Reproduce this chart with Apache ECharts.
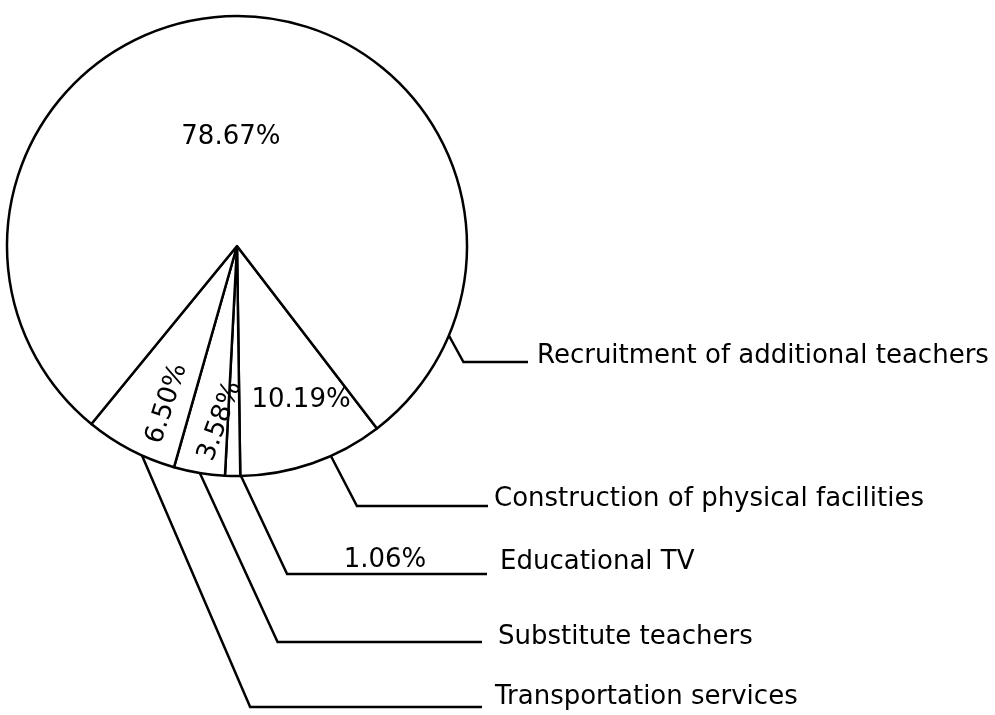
<!DOCTYPE html>
<html>
<head>
<meta charset="utf-8">
<script src="https://cdn.jsdelivr.net/npm/echarts@6/dist/echarts.min.js"></script>
<style>
html,body{margin:0;padding:0;background:#fff;}
#chart{width:995px;height:715px;}
</style>
</head>
<body>
<div id="chart"></div>
<script>
// ---- data ----
const categories = ['Construction of physical facilities', 'Educational TV', 'Substitute teachers', 'Transportation services', 'Recruitment of additional teachers'];
const shares = [10.19, 1.06, 3.58, 6.50, 78.67];
const percentLabels = ['10.19%', '1.06%', '3.58%', '6.50%', '78.67%'];

// ---- layout (not data) ----
const PIE_CENTER = [237, 246];
const PIE_RADIUS = 230;
const START_ANGLE = -52.5;
// leader line: angle on rim where it starts, slope of diagonal, horizontal line y / end, text pos
const leaderAngle = [65.9, 89, 99.3, 114.4, 22.9];
const leaderSlope = [0.52, 0.47, 0.46, 0.43, 0.55];
const leaderLineY = [506, 574, 642, 707, 362];
const leaderEndX = [488, 487, 482, 482, 528];
const nameTextX = [494, 500, 498, 495, 537];
const nameTextY = [499, 562, 637, 697, 356];
// percent label polar positions: [angle deg (clockwise from +x), fraction of radius]
const pctPolar = [[67.4, 0.725], null, [95.5, 0.765], [114, 0.75], [266.8, 0.475]];
const pctRotate = [0, 0, 70, 72, 0];

const FONT = '"DejaVu Sans", sans-serif';

function rimPoint(angleDeg, frac) {
  const a = angleDeg * Math.PI / 180;
  return [PIE_CENTER[0] + PIE_RADIUS * frac * Math.cos(a), PIE_CENTER[1] + PIE_RADIUS * frac * Math.sin(a)];
}

const chart = echarts.init(document.getElementById('chart'), null, {renderer: 'canvas'});

const nameData = categories.map((c, i) => ({name: c, value: shares[i]}));
const pctData = categories.map((c, i) => ({
  name: c, value: shares[i],
  label: {formatter: percentLabels[i], rotate: pctRotate[i]}
}));

const option = {
  backgroundColor: '#ffffff',
  animation: false,
  series: [
    {
      type: 'pie',
      center: PIE_CENTER,
      radius: PIE_RADIUS,
      startAngle: START_ANGLE,
      clockwise: true,
      avoidLabelOverlap: false,
      silent: true,
      emphasis: {disabled: true},
      itemStyle: {color: '#ffffff', borderColor: '#000000', borderWidth: 2.5},
      label: {
        show: true, position: 'outside', color: '#000', fontFamily: FONT, fontSize: 26,
        formatter: '{b}'
      },
      labelLine: {show: true, length: 20, length2: 20, smooth: false, lineStyle: {color: '#000', width: 2.5}},
      labelLayout: function (p) {
        const i = p.dataIndex;
        const s = rimPoint(leaderAngle[i], 1);
        const ly = leaderLineY[i];
        const bend = [s[0] + (ly - s[1]) * leaderSlope[i], ly];
        return {
          x: nameTextX[i], y: nameTextY[i], align: 'left', verticalAlign: 'middle',
          labelLinePoints: [s, bend, [leaderEndX[i], ly]]
        };
      },
      data: nameData
    },
    {
      type: 'pie',
      center: PIE_CENTER,
      radius: PIE_RADIUS,
      startAngle: START_ANGLE,
      clockwise: true,
      avoidLabelOverlap: false,
      silent: true,
      emphasis: {disabled: true},
      itemStyle: {color: 'rgba(0,0,0,0)', borderWidth: 0},
      label: {show: true, position: 'inside', color: '#000', fontFamily: FONT, fontSize: 26},
      labelLine: {show: false},
      labelLayout: function (p) {
        const i = p.dataIndex;
        let pt;
        if (pctPolar[i]) {
          pt = rimPoint(pctPolar[i][0], pctPolar[i][1]);
        } else {
          // sits on its leader line
          pt = [385, leaderLineY[i] - 14];
        }
        return {x: pt[0], y: pt[1], align: 'center', verticalAlign: 'middle'};
      },
      data: pctData
    }
  ]
};
chart.setOption(option);
</script>
</body>
</html>
